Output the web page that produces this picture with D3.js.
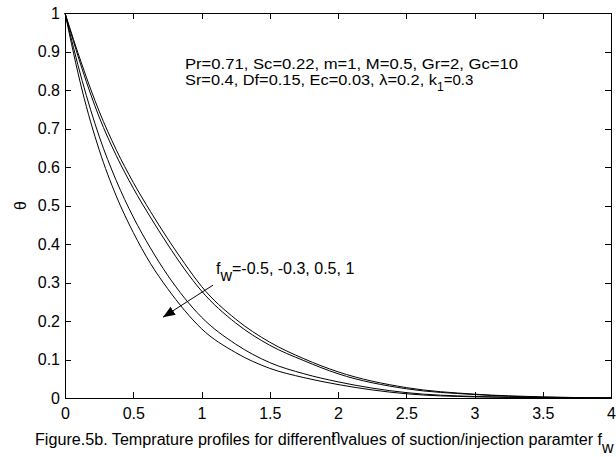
<!DOCTYPE html>
<html>
<head>
<meta charset="utf-8">
<script src="https://cdn.jsdelivr.net/npm/d3@7"></script>
<style>
  body { margin: 0; background: #fff; }
  svg { display: block; }
  text { font-family: "Liberation Sans", Arial, sans-serif; fill: #000; }
  .axis path, .axis line { stroke: #000; }
</style>
</head>
<body>
<div id="chart"></div>
<script>
// eta grid and the four temperature profiles (fw = -0.5, -0.3, 0.5, 1)
var eta = [0, 0.125, 0.25, 0.375, 0.5, 0.625, 0.75, 0.875, 1, 1.25, 1.5, 1.75, 2, 2.5, 3, 3.5, 4];
var thetaFwM05 = [1, 0.865, 0.745, 0.645, 0.56, 0.485, 0.415, 0.35, 0.29, 0.205, 0.145, 0.102, 0.068, 0.027, 0.010, 0.003, 0];
var thetaFwM03 = [1, 0.855, 0.73, 0.63, 0.545, 0.47, 0.40, 0.335, 0.278, 0.195, 0.137, 0.097, 0.063, 0.024, 0.009, 0.002, 0];
var thetaFw05 = [1, 0.825, 0.68, 0.565, 0.47, 0.39, 0.32, 0.26, 0.21, 0.14, 0.092, 0.063, 0.042, 0.014, 0.004, 0.001, 0];
var thetaFw1 = [1, 0.80, 0.645, 0.525, 0.43, 0.35, 0.285, 0.228, 0.18, 0.118, 0.077, 0.053, 0.035, 0.011, 0.003, 0.001, 0];

var xTicks = [0, 0.5, 1, 1.5, 2, 2.5, 3, 3.5, 4];
var xTickLabels = ["0", "0.5", "1", "1.5", "2", "2.5", "3", "3.5", "4"];
var yTicks = [0, 0.1, 0.2, 0.3, 0.4, 0.5, 0.6, 0.7, 0.8, 0.9, 1];
var yTickLabels = ["0", "0.1", "0.2", "0.3", "0.4", "0.5", "0.6", "0.7", "0.8", "0.9", "1"];

var paramLine1 = "Pr=0.71, Sc=0.22, m=1, M=0.5, Gr=2, Gc=10";
var paramLine2 = "Sr=0.4, Df=0.15, Ec=0.03, \u03bb=0.2, k";
var paramLine2b = "=0.3";
var fwLabel = "=-0.5, -0.3, 0.5, 1";
var caption = "Figure.5b. Temprature profiles for different values of suction/injection paramter f";

// arrow and label anchors, in data units
var arrowFrom = [1.084, 0.293];
var arrowTo = [0.718, 0.21];
var fwLabelAt = [1.106, 0.322];
var paramAt = [0.879, 0.855];

var width = 616, height = 457;
var margin = {left: 65, right: 5, top: 13, bottom: 59};

var svg = d3.select('#chart').append('svg')
    .attr('width', width)
    .attr('height', height);

var x = d3.scaleLinear().domain([0, 4]).range([margin.left, width - margin.right]);
var y = d3.scaleLinear().domain([0, 1]).range([height - margin.bottom, margin.top]);

var series = [thetaFwM05, thetaFwM03, thetaFw05, thetaFw1];

// axes, ticks inward
svg.append('g')
    .attr('class', 'axis')
    .attr('transform', 'translate(0,' + y(0) + ')')
    .call(d3.axisBottom(x).tickValues(xTicks).tickSize(-6).tickSizeOuter(0).tickPadding(10)
        .tickFormat(function(d, i){ return xTickLabels[i]; }));

svg.append('g')
    .attr('class', 'axis')
    .attr('transform', 'translate(' + x(0) + ',0)')
    .call(d3.axisLeft(y).tickValues(yTicks).tickSize(-6).tickSizeOuter(0).tickPadding(5)
        .tickFormat(function(d, i){ return yTickLabels[i]; }));

svg.append('g')
    .attr('class', 'axis')
    .attr('transform', 'translate(0,' + y(1) + ')')
    .call(d3.axisTop(x).tickValues(xTicks).tickSize(-6).tickSizeOuter(0).tickFormat(''));

svg.append('g')
    .attr('class', 'axis')
    .attr('transform', 'translate(' + x(4) + ',0)')
    .call(d3.axisRight(y).tickValues(yTicks).tickSize(-6).tickSizeOuter(0).tickFormat(''));

svg.selectAll('.axis text').style('font-size', '16px');
svg.selectAll('.axis path').attr('shape-rendering', 'crispEdges');
svg.selectAll('.axis line').attr('shape-rendering', 'crispEdges');

// profiles
var line = d3.line()
    .x(function(d, i){ return x(eta[i]); })
    .y(function(d){ return y(d); })
    .curve(d3.curveMonotoneX);

svg.append('g').selectAll('path')
    .data(series)
    .enter()
    .append('path')
    .attr('d', line)
    .attr('fill', 'none')
    .attr('stroke', '#000')
    .attr('stroke-width', 1);

// arrow
svg.append('defs').append('marker')
    .attr('id', 'head')
    .attr('viewBox', '0 0 10 10')
    .attr('refX', 10)
    .attr('refY', 5)
    .attr('markerWidth', 12)
    .attr('markerHeight', 12)
    .attr('markerUnits', 'userSpaceOnUse')
    .attr('orient', 'auto')
    .append('path')
    .attr('d', 'M0,1 L10,5 L0,9 Z')
    .attr('fill', '#000');

svg.append('line')
    .attr('x1', x(arrowFrom[0])).attr('y1', y(arrowFrom[1]))
    .attr('x2', x(arrowTo[0])).attr('y2', y(arrowTo[1]))
    .attr('stroke', '#000')
    .attr('stroke-width', 1)
    .attr('marker-end', 'url(#head)');

// fw label
var fw = svg.append('text')
    .attr('x', x(fwLabelAt[0]))
    .attr('y', y(fwLabelAt[1]))
    .style('font-size', '16px');
fw.append('tspan').text('f');
fw.append('tspan').attr('dy', 7).text('w');
fw.append('tspan').attr('dy', -7).text(fwLabel);

// parameter text
svg.append('text')
    .attr('x', x(paramAt[0]))
    .attr('y', y(paramAt[1]))
    .style('font-size', '15px')
    .attr('textLength', 333)
    .attr('lengthAdjust', 'spacingAndGlyphs')
    .text(paramLine1);

var p2 = svg.append('text')
    .attr('x', x(paramAt[0]))
    .attr('y', y(paramAt[1]) + 16)
    .style('font-size', '15px');
p2.append('tspan')
    .attr('textLength', 252)
    .attr('lengthAdjust', 'spacingAndGlyphs')
    .text(paramLine2);
p2.append('tspan').attr('dy', 6).style('font-size', '12px').text('1');
p2.append('tspan').attr('dy', -6).text(paramLine2b);

// axis labels
svg.append('text')
    .attr('transform', 'translate(26,' + y(0.5) + ') rotate(-90)')
    .attr('text-anchor', 'middle')
    .style('font-size', '16px')
    .text('\u03b8');

svg.append('text')
    .attr('x', 336)
    .attr('y', 441)
    .attr('text-anchor', 'middle')
    .style('font-size', '16px')
    .text('\u03b7');

// caption
var cap = svg.append('text')
    .attr('x', 35)
    .attr('y', 445)
    .style('font-size', '16px');
cap.append('tspan')
    .attr('textLength', 567)
    .attr('lengthAdjust', 'spacingAndGlyphs')
    .text(caption);
cap.append('tspan').attr('dy', 8).text('w');
</script>
</body>
</html>
